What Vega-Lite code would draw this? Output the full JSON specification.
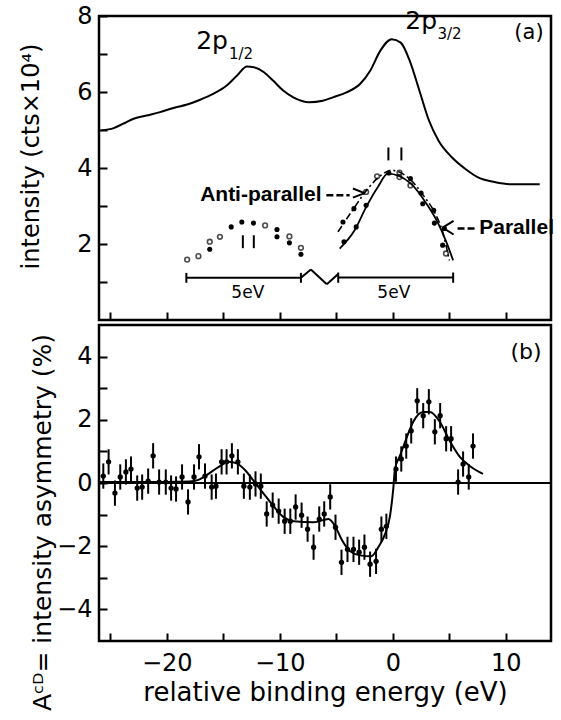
{
  "$schema": "https://vega.github.io/schema/vega-lite/v6.json",
  "background": "white",
  "padding": {"left": 18, "top": 2, "right": 4, "bottom": 4},
  "spacing": 0,
  "config": {
    "font": "DejaVu Sans",
    "view": {"stroke": "black", "strokeWidth": 2.5},
    "axis": {
      "grid": false, "domain": false,
      "tickColor": "black", "tickWidth": 2, "tickSize": -8,
      "labelColor": "black", "titleColor": "black",
      "labelFont": "DejaVu Sans", "titleFont": "DejaVu Sans",
      "labelFontSize": 24, "titleFontWeight": "normal"
    }
  },
  "datasets": {
    "curveA": [
      {"x": -25.8, "y": 4.99}, {"x": -24.7, "y": 5.05}, {"x": -23.9, "y": 5.16}, {"x": -23.0, "y": 5.29},
      {"x": -21.8, "y": 5.38}, {"x": -20.6, "y": 5.47}, {"x": -19.4, "y": 5.58}, {"x": -18.2, "y": 5.67},
      {"x": -17.1, "y": 5.79}, {"x": -15.9, "y": 5.95}, {"x": -14.7, "y": 6.17}, {"x": -13.8, "y": 6.43},
      {"x": -12.9, "y": 6.67}, {"x": -12.3, "y": 6.65}, {"x": -11.4, "y": 6.52}, {"x": -10.6, "y": 6.30},
      {"x": -9.7, "y": 6.04}, {"x": -8.8, "y": 5.86}, {"x": -7.4, "y": 5.73}, {"x": -6.2, "y": 5.77},
      {"x": -5.3, "y": 5.86}, {"x": -4.1, "y": 5.99}, {"x": -2.9, "y": 6.21}, {"x": -2.0, "y": 6.56},
      {"x": -1.1, "y": 7.09}, {"x": -0.1, "y": 7.39}, {"x": 0.7, "y": 7.30}, {"x": 1.5, "y": 6.82},
      {"x": 2.35, "y": 6.04}, {"x": 3.2, "y": 5.25}, {"x": 4.05, "y": 4.72}, {"x": 5.2, "y": 4.29},
      {"x": 6.4, "y": 3.98}, {"x": 7.5, "y": 3.76}, {"x": 9.0, "y": 3.63}, {"x": 10.5, "y": 3.57},
      {"x": 13.0, "y": 3.57}
    ],
    "openDots": [
      {"x": -18.2, "y": 1.59}, {"x": -17.2, "y": 1.68}, {"x": -16.2, "y": 2.06}, {"x": -15.3, "y": 2.19},
      {"x": -11.3, "y": 2.49}, {"x": -9.15, "y": 2.20}, {"x": -8.13, "y": 1.90},
      {"x": -2.36, "y": 3.37}, {"x": -1.39, "y": 3.78}, {"x": 0.59, "y": 3.88}, {"x": 0.59, "y": 3.76},
      {"x": 1.56, "y": 3.54}, {"x": 4.7, "y": 1.75}
    ],
    "filledDots": [
      {"x": -16.2, "y": 1.86}, {"x": -14.3, "y": 2.45}, {"x": -13.36, "y": 2.58}, {"x": -12.33, "y": 2.55},
      {"x": -10.25, "y": 2.38}, {"x": -10.25, "y": 2.19}, {"x": -9.15, "y": 2.03}, {"x": -8.13, "y": 1.73},
      {"x": -4.41, "y": 2.58}, {"x": -4.32, "y": 2.06}, {"x": -3.44, "y": 2.93}, {"x": -3.24, "y": 2.45},
      {"x": -2.36, "y": 3.02}, {"x": -0.35, "y": 3.87}, {"x": 1.56, "y": 3.72}, {"x": 2.5, "y": 3.34},
      {"x": 2.65, "y": 3.06}, {"x": 3.62, "y": 2.89}, {"x": 3.68, "y": 2.55}, {"x": 4.56, "y": 2.41},
      {"x": 4.41, "y": 1.97}
    ],
    "anti": [
      {"x": -4.85, "y": 2.32}, {"x": -3.38, "y": 2.97}, {"x": -2.2, "y": 3.46}, {"x": -1.03, "y": 3.81},
      {"x": -0.15, "y": 3.94}, {"x": 1.47, "y": 3.72}, {"x": 2.8, "y": 3.24}, {"x": 3.68, "y": 2.84},
      {"x": 4.41, "y": 2.32}, {"x": 5.0, "y": 1.57}
    ],
    "par": [
      {"x": -4.7, "y": 1.88}, {"x": -3.38, "y": 2.36}, {"x": -2.36, "y": 2.97}, {"x": -1.32, "y": 3.5},
      {"x": -0.44, "y": 3.85}, {"x": 1.6, "y": 3.59}, {"x": 3.07, "y": 3.02}, {"x": 3.95, "y": 2.58},
      {"x": 4.67, "y": 2.1}, {"x": 5.34, "y": 1.57}
    ],
    "segs": [
      {"x": -18.27, "y": 1.11, "x2": -8.13, "y2": 1.11},
      {"x": -18.27, "y": 0.98, "x2": -18.27, "y2": 1.24},
      {"x": -8.13, "y": 0.98, "x2": -8.13, "y2": 1.24},
      {"x": -8.13, "y": 1.11, "x2": -7.25, "y2": 1.33},
      {"x": -7.25, "y": 1.33, "x2": -5.84, "y2": 0.94},
      {"x": -5.84, "y": 0.94, "x2": -4.83, "y2": 1.21},
      {"x": -4.83, "y": 1.12, "x2": 5.34, "y2": 1.12},
      {"x": -4.83, "y": 0.98, "x2": -4.83, "y2": 1.25},
      {"x": 5.34, "y": 0.98, "x2": 5.34, "y2": 1.25},
      {"x": -13.27, "y": 1.89, "x2": -13.27, "y2": 2.23},
      {"x": -12.3, "y": 1.89, "x2": -12.3, "y2": 2.23},
      {"x": -0.39, "y": 4.2, "x2": -0.39, "y2": 4.54},
      {"x": 0.76, "y": 4.2, "x2": 0.76, "y2": 4.54},
      {"x": -3.53, "y": 3.46, "x2": -2.5, "y2": 3.34},
      {"x": -3.53, "y": 3.22, "x2": -2.5, "y2": 3.34},
      {"x": 5.38, "y": 2.61, "x2": 4.41, "y2": 2.43},
      {"x": 5.38, "y": 2.25, "x2": 4.41, "y2": 2.43}
    ],
    "dashSegs": [
      {"x": -5.88, "y": 3.28, "x2": -3.82, "y2": 3.28},
      {"x": 5.73, "y": 2.41, "x2": 7.49, "y2": 2.41}
    ],
    "bigLabels": [
      {"x": -17.4, "y": 7.14, "t": "2p"},
      {"x": 1.1, "y": 7.66, "t": "2p"}
    ],
    "subLabels": [
      {"x": -14.5, "y": 6.88, "t": "1/2"},
      {"x": 3.95, "y": 7.4, "t": "3/2"}
    ],
    "boldLabels": [
      {"x": -17.05, "y": 3.28, "t": "Anti-parallel"},
      {"x": 7.65, "y": 2.41, "t": "Parallel"}
    ],
    "evLabels": [
      {"x": -12.83, "y": 0.70, "t": "5eV"},
      {"x": 0.09, "y": 0.72, "t": "5eV"}
    ],
    "panelA": [{"x": 12.05, "y": 7.56, "t": "(a)"}],
    "panelB": [{"x": 11.79, "y": 4.16, "t": "(b)"}],
    "zeroLine": [{"x": -26, "y": 0}, {"x": 14, "y": 0}],
    "asym": [
      {"x": -25.62, "y": 0.22, "e": 0.4}, {"x": -25.15, "y": 0.67, "e": 0.4}, {"x": -24.59, "y": -0.32, "e": 0.4},
      {"x": -24.12, "y": 0.19, "e": 0.4}, {"x": -23.62, "y": 0.35, "e": 0.4}, {"x": -23.17, "y": 0.44, "e": 0.4},
      {"x": -22.62, "y": -0.16, "e": 0.4}, {"x": -22.18, "y": -0.13, "e": 0.4}, {"x": -21.65, "y": 0.06, "e": 0.4},
      {"x": -21.21, "y": 0.86, "e": 0.4}, {"x": -20.68, "y": 0.03, "e": 0.4}, {"x": -20.09, "y": 0.03, "e": 0.4},
      {"x": -19.62, "y": -0.16, "e": 0.4}, {"x": -19.18, "y": -0.19, "e": 0.4}, {"x": -18.65, "y": 0.19, "e": 0.4},
      {"x": -18.12, "y": -0.60, "e": 0.4}, {"x": -17.59, "y": 0.19, "e": 0.4}, {"x": -17.15, "y": 0.83, "e": 0.4},
      {"x": -16.62, "y": 0.22, "e": 0.4}, {"x": -16.03, "y": -0.13, "e": 0.4}, {"x": -15.65, "y": -0.10, "e": 0.4},
      {"x": -15.15, "y": 0.67, "e": 0.4}, {"x": -14.71, "y": 0.67, "e": 0.4}, {"x": -14.24, "y": 0.86, "e": 0.4},
      {"x": -13.71, "y": 0.67, "e": 0.4}, {"x": -13.18, "y": -0.10, "e": 0.4}, {"x": -12.65, "y": -0.13, "e": 0.4},
      {"x": -12.15, "y": -0.03, "e": 0.4}, {"x": -11.68, "y": -0.10, "e": 0.4}, {"x": -11.16, "y": -0.98, "e": 0.4},
      {"x": -10.63, "y": -0.70, "e": 0.4}, {"x": -10.10, "y": -0.89, "e": 0.4}, {"x": -9.57, "y": -1.21, "e": 0.4},
      {"x": -9.07, "y": -1.21, "e": 0.4}, {"x": -8.60, "y": -0.76, "e": 0.4}, {"x": -8.07, "y": -1.02, "e": 0.4},
      {"x": -7.54, "y": -1.46, "e": 0.4}, {"x": -7.01, "y": -2.03, "e": 0.4}, {"x": -6.51, "y": -1.14, "e": 0.4},
      {"x": -6.07, "y": -0.98, "e": 0.4}, {"x": -5.54, "y": -0.44, "e": 0.4}, {"x": -5.07, "y": -1.40, "e": 0.4},
      {"x": -4.54, "y": -2.51, "e": 0.4}, {"x": -4.01, "y": -2.10, "e": 0.4}, {"x": -3.48, "y": -2.10, "e": 0.4},
      {"x": -2.98, "y": -2.19, "e": 0.4}, {"x": -2.51, "y": -2.03, "e": 0.4}, {"x": -2.01, "y": -2.57, "e": 0.4},
      {"x": -1.48, "y": -2.48, "e": 0.4}, {"x": -1.01, "y": -1.46, "e": 0.4}, {"x": -0.57, "y": -1.37, "e": 0.4},
      {"x": 0.28, "y": 0.44, "e": 0.4}, {"x": 0.75, "y": 0.76, "e": 0.4}, {"x": 1.19, "y": 1.17, "e": 0.4},
      {"x": 1.63, "y": 1.65, "e": 0.4}, {"x": 2.16, "y": 2.60, "e": 0.4}, {"x": 2.69, "y": 2.13, "e": 0.4},
      {"x": 3.19, "y": 2.57, "e": 0.4}, {"x": 3.72, "y": 1.62, "e": 0.4}, {"x": 4.19, "y": 2.13, "e": 0.4},
      {"x": 4.72, "y": 1.40, "e": 0.4}, {"x": 5.16, "y": 1.40, "e": 0.4}, {"x": 5.78, "y": 0.03, "e": 0.4},
      {"x": 6.22, "y": 0.60, "e": 0.4}, {"x": 6.72, "y": 0.19, "e": 0.4}, {"x": 7.10, "y": 1.17, "e": 0.4}
    ],
    "fitB": [
      {"x": -26, "y": 0.03}, {"x": -22, "y": 0.03}, {"x": -18, "y": 0.05}, {"x": -17.2, "y": 0.1},
      {"x": -16.6, "y": 0.22}, {"x": -15.4, "y": 0.51}, {"x": -14.5, "y": 0.67}, {"x": -13.8, "y": 0.62},
      {"x": -13.0, "y": 0.38}, {"x": -12.3, "y": 0.06}, {"x": -11.4, "y": -0.35}, {"x": -10.5, "y": -0.76},
      {"x": -9.66, "y": -1.08}, {"x": -8.77, "y": -1.21}, {"x": -7.0, "y": -1.24}, {"x": -5.69, "y": -1.14},
      {"x": -5.1, "y": -1.37}, {"x": -4.54, "y": -1.78}, {"x": -3.77, "y": -2.16}, {"x": -2.89, "y": -2.29},
      {"x": -1.9, "y": -2.32}, {"x": -1.28, "y": -2.03}, {"x": -0.69, "y": -1.62}, {"x": -0.25, "y": -1.05},
      {"x": 0.04, "y": -0.19}, {"x": 0.19, "y": 0.44}, {"x": 0.63, "y": 0.86}, {"x": 1.19, "y": 1.40},
      {"x": 1.81, "y": 1.94}, {"x": 2.69, "y": 2.25}, {"x": 3.28, "y": 2.25}, {"x": 4.16, "y": 1.94},
      {"x": 5.04, "y": 1.33}, {"x": 5.93, "y": 0.83}, {"x": 6.81, "y": 0.54}, {"x": 7.98, "y": 0.29}
    ]
  },
  "vconcat": [
    {
      "width": 452,
      "height": 304,
      "encoding": {
        "x": {
          "field": "x", "type": "quantitative",
          "scale": {"domain": [-26, 14], "nice": false, "zero": false},
          "axis": {"orient": "bottom", "values": [-25, -20, -15, -10, -5, 0, 5, 10], "labels": false, "title": null}
        },
        "y": {
          "field": "y", "type": "quantitative",
          "scale": {"domain": [0, 8], "nice": false, "zero": false},
          "axis": {
            "values": [1, 2, 3, 4, 5, 6, 7, 8],
            "labelExpr": "datum.value % 2 == 0 ? datum.label : ''",
            "labelPadding": 15,
            "title": "intensity (cts×10⁴)", "titleFontSize": 24, "titlePadding": 33, "titleY": 140
          }
        }
      },
      "layer": [
        {"data": {"name": "curveA"}, "mark": {"type": "line", "interpolate": "monotone", "color": "black", "strokeWidth": 2}},
        {"data": {"name": "anti"}, "mark": {"type": "line", "interpolate": "monotone", "color": "black", "strokeWidth": 1.6, "strokeDash": [7, 3, 2, 3]}},
        {"data": {"name": "par"}, "mark": {"type": "line", "interpolate": "monotone", "color": "black", "strokeWidth": 1.8}},
        {"data": {"name": "openDots"}, "mark": {"type": "point", "filled": false, "color": "black", "size": 22, "strokeWidth": 1.6}},
        {"data": {"name": "filledDots"}, "mark": {"type": "point", "filled": true, "color": "black", "size": 26, "opacity": 1}},
        {"data": {"name": "segs"}, "mark": {"type": "rule", "color": "black", "strokeWidth": 2}, "encoding": {"x2": {"field": "x2"}, "y2": {"field": "y2"}}},
        {"data": {"name": "dashSegs"}, "mark": {"type": "rule", "color": "black", "strokeWidth": 2.5, "strokeDash": [7, 3]}, "encoding": {"x2": {"field": "x2"}, "y2": {"field": "y2"}}},
        {"data": {"name": "bigLabels"}, "mark": {"type": "text", "align": "left", "baseline": "alphabetic", "fontSize": 25, "font": "DejaVu Sans", "color": "black"}, "encoding": {"text": {"field": "t"}}},
        {"data": {"name": "subLabels"}, "mark": {"type": "text", "align": "left", "baseline": "alphabetic", "fontSize": 15, "font": "DejaVu Sans", "color": "black"}, "encoding": {"text": {"field": "t"}}},
        {"data": {"name": "boldLabels"}, "mark": {"type": "text", "align": "left", "baseline": "middle", "fontSize": 21, "fontWeight": "bold", "font": "Liberation Sans", "color": "black"}, "encoding": {"text": {"field": "t"}}},
        {"data": {"name": "evLabels"}, "mark": {"type": "text", "align": "center", "baseline": "middle", "fontSize": 17, "font": "DejaVu Sans", "color": "black"}, "encoding": {"text": {"field": "t"}}},
        {"data": {"name": "panelA"}, "mark": {"type": "text", "align": "center", "baseline": "middle", "fontSize": 21, "font": "DejaVu Sans", "color": "black"}, "encoding": {"text": {"field": "t"}}}
      ]
    },
    {
      "width": 452,
      "height": 316,
      "encoding": {
        "x": {
          "field": "x", "type": "quantitative",
          "scale": {"domain": [-26, 14], "nice": false, "zero": false},
          "axis": {
            "values": [-25, -20, -15, -10, -5, 0, 5, 10],
            "labelExpr": "datum.value % 10 == 0 ? datum.label : ''",
            "labelPadding": 18,
            "title": "relative binding energy (eV)", "titleFontSize": 26, "titlePadding": 4
          }
        },
        "y": {
          "field": "y", "type": "quantitative",
          "scale": {"domain": [-5, 5], "nice": false, "zero": false},
          "axis": {
            "values": [-4, -3, -2, -1, 0, 1, 2, 3, 4],
            "labelExpr": "datum.value % 2 == 0 ? datum.label : ''",
            "labelPadding": 15,
            "title": "Aᶜᴰ= intensity asymmetry (%)", "titleFontSize": 25, "titlePadding": 1, "titleY": 197
          }
        }
      },
      "layer": [
        {"data": {"name": "zeroLine"}, "mark": {"type": "line", "color": "black", "strokeWidth": 2}},
        {"data": {"name": "asym"}, "mark": {"type": "errorbar", "ticks": false, "thickness": 2, "color": "black"}, "encoding": {"yError": {"field": "e"}}},
        {"data": {"name": "asym"}, "mark": {"type": "point", "filled": true, "color": "black", "size": 28, "opacity": 1}},
        {"data": {"name": "fitB"}, "mark": {"type": "line", "interpolate": "monotone", "color": "black", "strokeWidth": 2}},
        {"data": {"name": "panelB"}, "mark": {"type": "text", "align": "center", "baseline": "middle", "fontSize": 22, "font": "DejaVu Sans", "color": "black"}, "encoding": {"text": {"field": "t"}}}
      ]
    }
  ]
}
